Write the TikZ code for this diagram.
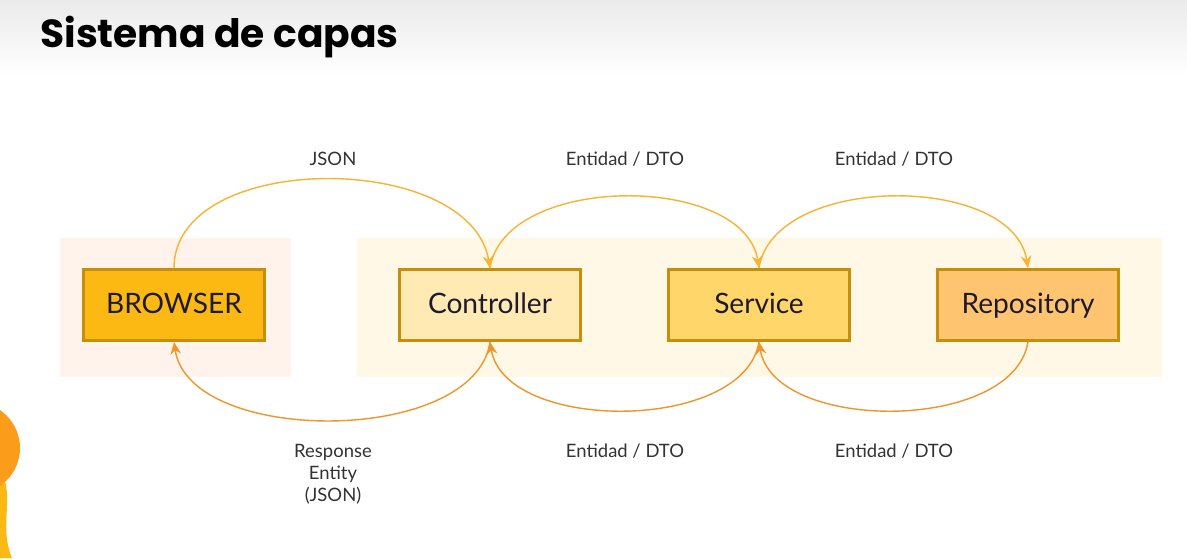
\documentclass[tikz,border=0pt]{standalone}
\usepackage{fontspec}
\setmainfont{Lato}
\newfontfamily\titlefont{Poppins}
\usetikzlibrary{arrows.meta,positioning}

\definecolor{boxedge}{HTML}{C4900C}
\definecolor{brwfill}{HTML}{FDB913}
\definecolor{ctlfill}{HTML}{FFEAB4}
\definecolor{srvfill}{HTML}{FFD66A}
\definecolor{repfill}{HTML}{FFC46F}
\definecolor{arctop}{HTML}{F7B331}
\definecolor{arcbot}{HTML}{EE962A}
\definecolor{panelleft}{HTML}{FFF3EC}
\definecolor{panelright}{HTML}{FFF8E7}
\definecolor{textdark}{HTML}{1E1A2E}
\definecolor{blobor}{HTML}{FB9C1B}
\definecolor{blobye}{HTML}{FDB913}

\begin{document}
\begin{tikzpicture}[x=0.02cm, y=0.02cm,
    layerbox/.style={draw=boxedge, line width=1.7pt, minimum width=3.62cm,
        minimum height=1.42cm, inner sep=0pt, text=textdark,
        text height=1.0em, text depth=0pt,
        font=\fontsize{16}{18}\selectfont},
    flowtop/.style={draw=arctop, line width=0.8pt, -{Stealth[length=7pt, width=6pt]}},
    flowbot/.style={draw=arcbot, line width=0.8pt, -{Stealth[length=7pt, width=6pt]}},
    flowlabel/.style={font=\fontsize{10.5}{12.5}\selectfont, text=black!80, align=center}]
    \useasboundingbox (0,0) rectangle (1187,-558);
    % Background
    \fill[white] (0,0) rectangle (1187,-558);
    \shade[top color=black!8, bottom color=white] (0,0) rectangle (1187,-75);
    % Title
    \node[anchor=base west, inner sep=0pt, font=\titlefont\bfseries\fontsize{22.3}{27}\selectfont]
        (title) at (40,-47) {Sistema de capas};
    % Panels
    \fill[panelleft] (60,-238) rectangle (291,-377);
    \fill[panelright] (357,-238) rectangle (1162,-377);
    % Decoration, bottom left
    \fill[blobye] (0,-470) .. controls (16,-495) and (-2,-525) .. (12,-558) -- (0,-558) -- cycle;
    \fill[blobor] (-26,-448) circle (46);
    % Layers
    \node[layerbox, fill=brwfill] (brw) at (174,-305) {BROWSER};
    \node[layerbox, fill=ctlfill] (ctl) at (490,-305) {Controller};
    \node[layerbox, fill=srvfill] (srv) at (759,-305) {Service};
    \node[layerbox, fill=repfill] (rep) at (1028,-305) {Repository};
    % Requests
    \draw[flowtop] (brw.north) .. controls +(0,118) and +(-20,118) .. (ctl.north);
    \draw[flowtop] (ctl.north) .. controls +(15,95) and +(-15,95) .. (srv.north);
    \draw[flowtop] (srv.north) .. controls +(15,95) and +(-15,95) .. (rep.north);
    % Responses
    \draw[flowbot] (ctl.south) .. controls +(-15,-104) and +(15,-104) .. (brw.south);
    \draw[flowbot] (srv.south) .. controls +(-15,-91) and +(15,-91) .. (ctl.south);
    \draw[flowbot] (rep.south) .. controls +(-15,-91) and +(15,-91) .. (srv.south);
    % Labels
    \node[flowlabel] (json) at (333,-159) {JSON};
    \node[flowlabel] (dtoa) at (625,-159) {Entidad / DTO};
    \node[flowlabel] (dtob) at (894,-159) {Entidad / DTO};
    \node[flowlabel] (resp) at (333,-474) {Response\\Entity\\(JSON)};
    \node[flowlabel] (dtoc) at (625,-451) {Entidad / DTO};
    \node[flowlabel] (dtod) at (894,-451) {Entidad / DTO};
\end{tikzpicture}
\end{document}
